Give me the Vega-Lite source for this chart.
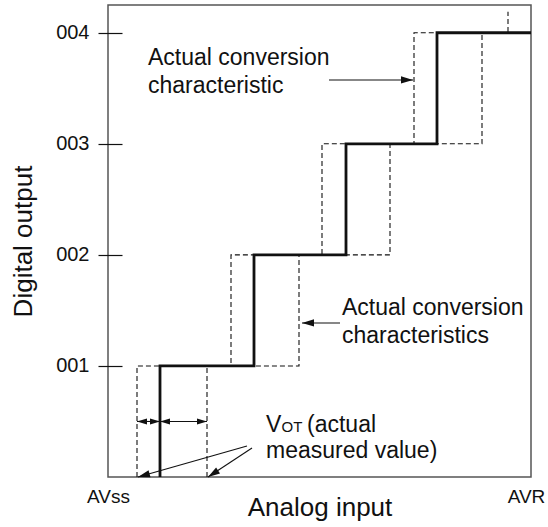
{
  "$schema": "https://vega.github.io/schema/vega-lite/v6.json",
  "width": 423,
  "height": 472,
  "autosize": "none",
  "padding": {"left": 108, "top": 5, "right": 17, "bottom": 50},
  "background": "white",
  "config": {
    "view": {"stroke": "#555", "strokeWidth": 1.5},
    "font": "Liberation Sans",
    "axis": {"grid": false, "domain": false, "labelColor": "#111", "titleColor": "#111", "titleFontWeight": "normal", "labelFont": "Liberation Sans", "titleFont": "Liberation Sans"}
  },
  "datasets": {
    "steps": [
      {"series": "actual", "i": 1, "x": 52, "y": 0},
      {"series": "actual", "i": 2, "x": 52, "y": 1},
      {"series": "actual", "i": 3, "x": 146, "y": 1},
      {"series": "actual", "i": 4, "x": 146, "y": 2},
      {"series": "actual", "i": 5, "x": 238, "y": 2},
      {"series": "actual", "i": 6, "x": 238, "y": 3},
      {"series": "actual", "i": 7, "x": 329, "y": 3},
      {"series": "actual", "i": 8, "x": 329, "y": 4},
      {"series": "actual", "i": 9, "x": 423, "y": 4},
      {"series": "early", "i": 1, "x": 29, "y": 0},
      {"series": "early", "i": 2, "x": 29, "y": 1},
      {"series": "early", "i": 3, "x": 123, "y": 1},
      {"series": "early", "i": 4, "x": 123, "y": 2},
      {"series": "early", "i": 5, "x": 214, "y": 2},
      {"series": "early", "i": 6, "x": 214, "y": 3},
      {"series": "early", "i": 7, "x": 306, "y": 3},
      {"series": "early", "i": 8, "x": 306, "y": 4},
      {"series": "early", "i": 9, "x": 400, "y": 4},
      {"series": "early", "i": 10, "x": 400, "y": 4.19},
      {"series": "late", "i": 1, "x": 99, "y": 0},
      {"series": "late", "i": 2, "x": 99, "y": 1},
      {"series": "late", "i": 3, "x": 191, "y": 1},
      {"series": "late", "i": 4, "x": 191, "y": 2},
      {"series": "late", "i": 5, "x": 282, "y": 2},
      {"series": "late", "i": 6, "x": 282, "y": 3},
      {"series": "late", "i": 7, "x": 374, "y": 3},
      {"series": "late", "i": 8, "x": 374, "y": 4},
      {"series": "late", "i": 9, "x": 423, "y": 4}
    ],
    "arrows": [
      {"x": 221, "y": 3.575, "x2": 305, "y2": 3.575},
      {"x": 232, "y": 1.387, "x2": 194, "y2": 1.387},
      {"x": 139, "y": 0.279, "x2": 30, "y2": 0},
      {"x": 144, "y": 0.261, "x2": 100, "y2": 0},
      {"x": 29, "y": 0.5, "x2": 52, "y2": 0.5},
      {"x": 52, "y": 0.5, "x2": 99, "y2": 0.5}
    ],
    "heads": [
      {"dir": "right", "kind": "big", "x": 305, "y": 3.575},
      {"dir": "left", "kind": "big", "x": 194, "y": 1.387},
      {"dir": "sw1", "kind": "big", "x": 30, "y": 0},
      {"dir": "sw2", "kind": "big", "x": 100, "y": 0},
      {"dir": "left", "kind": "small", "x": 29, "y": 0.5},
      {"dir": "right", "kind": "small", "x": 52, "y": 0.5},
      {"dir": "left", "kind": "small", "x": 52, "y": 0.5},
      {"dir": "right", "kind": "small", "x": 99, "y": 0.5}
    ],
    "notes": [
      {"x": 40, "y": 3.710, "t": "Actual conversion"},
      {"x": 40, "y": 3.458, "t": "characteristic"},
      {"x": 234, "y": 1.459, "t": "Actual conversion"},
      {"x": 234, "y": 1.207, "t": "characteristics"},
      {"x": 158, "y": 0.405, "t": "V"},
      {"x": 199, "y": 0.405, "t": "(actual"},
      {"x": 158, "y": 0.171, "t": "measured value)"}
    ],
    "subs": [
      {"x": 173.5, "y": 0.405, "t": "OT"}
    ]
  },
  "encoding": {
    "x": {"field": "x", "type": "quantitative", "scale": {"domain": [0, 423], "nice": false, "zero": false},
      "axis": {"values": [0, 423], "labelExpr": "datum.value == 0 ? 'AVss' : 'AVR'", "ticks": false, "labelFlush": false,
        "labelOffset": {"condition": {"test": "datum.value == 423", "value": -5}, "value": 0},
        "labelFontSize": 19, "labelPadding": 10, "title": "Analog input", "titleFontSize": 26, "titleBaseline": "alphabetic", "titleY": 38}},
    "y": {"field": "y", "type": "quantitative", "scale": {"domain": [0, 4.25], "nice": false, "zero": false},
      "axis": {"values": [1, 2, 3, 4], "labelExpr": "'00' + datum.value", "offset": -14, "tickSize": 24, "tickColor": "#111", "tickWidth": 1.2,
        "labelFontSize": 20, "labelPadding": 9, "title": "Digital output", "titleFontSize": 26, "titlePadding": 19}}
  },
  "layer": [
    {
      "data": {"name": "steps"},
      "transform": [{"filter": "datum.series != 'actual'"}],
      "mark": {"type": "line", "color": "#111", "strokeWidth": 1.1, "strokeDash": [5, 3], "interpolate": "linear"},
      "encoding": {"detail": {"field": "series"}, "order": {"field": "i", "type": "quantitative"}}
    },
    {
      "data": {"name": "steps"},
      "transform": [{"filter": "datum.series == 'actual'"}],
      "mark": {"type": "line", "color": "#111", "strokeWidth": 2.8, "strokeJoin": "miter"},
      "encoding": {"order": {"field": "i", "type": "quantitative"}}
    },
    {
      "data": {"name": "arrows"},
      "mark": {"type": "rule", "color": "#111", "strokeWidth": 1.1},
      "encoding": {"x2": {"field": "x2"}, "y2": {"field": "y2"}}
    },
    {
      "data": {"name": "heads"},
      "transform": [{"filter": "datum.dir == 'right' && datum.kind == 'big'"}],
      "mark": {"type": "point", "shape": "M0,0L-1,-0.3L-1,0.3Z", "filled": true, "color": "#111", "opacity": 1, "size": 576, "angle": 0}
    },
    {
      "data": {"name": "heads"},
      "transform": [{"filter": "datum.dir == 'left' && datum.kind == 'big'"}],
      "mark": {"type": "point", "shape": "M0,0L-1,-0.3L-1,0.3Z", "filled": true, "color": "#111", "opacity": 1, "size": 576, "angle": 180}
    },
    {
      "data": {"name": "heads"},
      "transform": [{"filter": "datum.dir == 'sw1'"}],
      "mark": {"type": "point", "shape": "M0,0L-1,-0.3L-1,0.3Z", "filled": true, "color": "#111", "opacity": 1, "size": 576, "angle": 164}
    },
    {
      "data": {"name": "heads"},
      "transform": [{"filter": "datum.dir == 'sw2'"}],
      "mark": {"type": "point", "shape": "M0,0L-1,-0.3L-1,0.3Z", "filled": true, "color": "#111", "opacity": 1, "size": 576, "angle": 147}
    },
    {
      "data": {"name": "heads"},
      "transform": [{"filter": "datum.dir == 'right' && datum.kind == 'small'"}],
      "mark": {"type": "point", "shape": "M0,0L-1,-0.3L-1,0.3Z", "filled": true, "color": "#111", "opacity": 1, "size": 400, "angle": 0}
    },
    {
      "data": {"name": "heads"},
      "transform": [{"filter": "datum.dir == 'left' && datum.kind == 'small'"}],
      "mark": {"type": "point", "shape": "M0,0L-1,-0.3L-1,0.3Z", "filled": true, "color": "#111", "opacity": 1, "size": 400, "angle": 180}
    },
    {
      "data": {"name": "notes"},
      "mark": {"type": "text", "align": "left", "baseline": "alphabetic", "fontSize": 23, "color": "#111", "font": "Liberation Sans"},
      "encoding": {"text": {"field": "t"}}
    },
    {
      "data": {"name": "subs"},
      "mark": {"type": "text", "align": "left", "baseline": "alphabetic", "fontSize": 15, "color": "#111", "font": "Liberation Sans"},
      "encoding": {"text": {"field": "t"}}
    }
  ]
}
